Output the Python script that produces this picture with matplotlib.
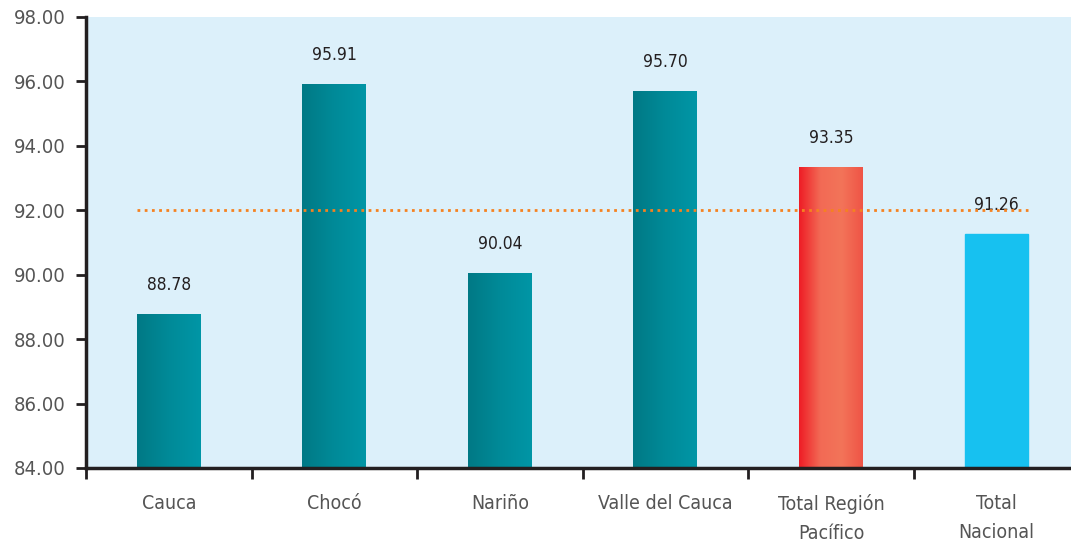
import numpy as np
import matplotlib.pyplot as plt
from matplotlib.colors import LinearSegmentedColormap

categories = ['Cauca', 'Chocó', 'Nariño', 'Valle del Cauca',
              'Total Región\nPacífico', 'Total\nNacional']
values = [88.78, 95.91, 90.04, 95.70, 93.35, 91.26]
ref_line = 92.0
yticks = [84, 86, 88, 90, 92, 94, 96, 98]

plt.rcParams['font.family'] = ['DejaVu Sans']
plt.rcParams['font.stretch'] = 'condensed'

teal = LinearSegmentedColormap.from_list('teal', ['#007985', '#008a98', '#0096a6'])
red = LinearSegmentedColormap.from_list('red', ['#ee1c25', '#f26a55', '#f37459', '#ef5446'])
styles = [teal, teal, teal, teal, red, '#17c1f0']

fig = plt.figure(figsize=(10.71, 5.46), dpi=100)
ax = fig.add_axes([0.0803, 0.1429, 0.9197, 0.826])
ax.set_facecolor('#dcf0fa')

x = np.arange(len(categories))
bars = ax.bar(x, [v - 84 for v in values], bottom=84, width=0.386, color='#008a98', zorder=2)

# gradient fill clipped to each bar
grad = np.linspace(0, 1, 256).reshape(1, -1)
for b, st in zip(bars, styles):
    if isinstance(st, str):
        b.set_color(st)
        continue
    x0, y0 = b.get_x(), b.get_y()
    im = ax.imshow(grad, cmap=st, aspect='auto', zorder=2.5,
                   extent=[x0, x0 + b.get_width(), y0, y0 + b.get_height()])
    im.set_clip_path(b)

for xi, v in zip(x, values):
    ax.annotate(f'{v:.2f}', (xi, v), xytext=(0, 14.5), textcoords='offset points',
                ha='center', va='bottom', fontsize=12.5, color='#231f20')

ax.plot([x[0] - 0.193, x[-1] + 0.193], [ref_line, ref_line], linestyle=(0, (1, 1.6)),
        color='#f58220', linewidth=2, zorder=3)

ax.set_xlim(-0.5, 5.45)
ax.set_ylim(84, 98)
ax.set_yticks(yticks)
ax.set_yticklabels([f'{t:.2f}' for t in yticks], fontsize=14.5, color='#555555')

ax.set_xticks(np.arange(-0.5, 5.0, 1))
ax.set_xticklabels([])
ax.set_xticks(x, minor=True)
ax.set_xticklabels(categories, minor=True, fontsize=14, color='#555555', linespacing=1.65)
ax.tick_params(axis='x', which='major', direction='out', length=8, width=2, color='#231f20')
ax.tick_params(axis='x', which='minor', length=0, pad=19)
ax.tick_params(axis='y', direction='out', length=7, width=2, color='#231f20', pad=8)

for s in ['top', 'right']:
    ax.spines[s].set_visible(False)
for s in ['left', 'bottom']:
    ax.spines[s].set_linewidth(2.5)
    ax.spines[s].set_color('#231f20')
    ax.spines[s].set_zorder(4)

fig.savefig('out.png', dpi=100)
